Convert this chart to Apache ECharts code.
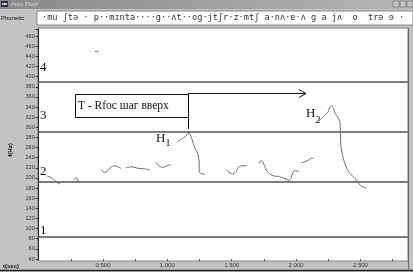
<!DOCTYPE html>
<html>
<head>
<meta charset="utf-8">
<script src="https://cdn.jsdelivr.net/npm/echarts@6/dist/echarts.min.js"></script>
<style>
  html, body { margin: 0; padding: 0; background: #fff; }
  #chart { width: 413px; height: 272px; }
</style>
</head>
<body>
<div id="chart"></div>
<script>
// pitch contour pieces, [time (sec), f0 (Hz)]
const segA = [[0.065, 204], [0.096, 201], [0.121, 196], [0.142, 192], [0.155, 188], [0.166, 190]];
const segB = [[0.272, 196], [0.290, 201], [0.315, 191]];
const segK = [[0.434, 449], [0.449, 451], [0.469, 447]];
const segC = [[0.484, 216], [0.510, 211], [0.536, 214], [0.562, 222], [0.587, 224], [0.614, 222], [0.639, 219]];
const segD = [[0.678, 220], [0.725, 222], [0.772, 219], [0.818, 218], [0.865, 216]];
const segE = [[0.912, 231], [0.942, 222], [0.968, 221], [0.995, 224], [1.026, 226]];
const segF = [[1.080, 272], [1.111, 277], [1.137, 281], [1.162, 288], [1.176, 287], [1.189, 278], [1.214, 259],
  [1.235, 249], [1.246, 235], [1.248, 212], [1.259, 209], [1.292, 207]];
const segG = [[1.456, 216], [1.486, 210], [1.512, 208], [1.533, 212], [1.551, 221], [1.577, 224], [1.616, 224]];
const segH = [[1.714, 229], [1.725, 234], [1.741, 232], [1.758, 222], [1.772, 214], [1.797, 208], [1.823, 204],
  [1.862, 203], [1.901, 200], [1.927, 197], [1.945, 195], [1.960, 199], [1.974, 210], [1.984, 214], [2.005, 214], [2.023, 212]];
const segI = [[2.044, 230], [2.069, 232], [2.095, 235], [2.113, 238], [2.134, 239]];
const segJ = [[2.172, 311], [2.211, 321], [2.250, 331], [2.263, 340], [2.276, 342], [2.289, 339], [2.302, 328],
  [2.328, 318], [2.341, 311], [2.345, 288], [2.349, 262], [2.367, 239], [2.393, 219], [2.419, 209], [2.458, 199],
  [2.483, 190], [2.510, 183], [2.549, 180]];
const segments = [segA, segB, segK, segC, segD, segE, segF, segG, segH, segI, segJ];

// register levels
const levelValues = [84, 192, 291, 389];
const levelNames = ['1', '2', '3', '4'];

const phonetic = '·mu ʃtə · p··mɪnta····g··ʌt··og·jtʃr·z·mtʃ a·nʌ·ɐ·ʌ g a jʌ  o  trə ɘ ·';

const chart = echarts.init(document.getElementById('chart'));

const serif = '"Liberation Serif", "DejaVu Serif", serif';
const tiny = '"Liberation Sans", Arial, sans-serif';

const series = segments.map((seg, i) => ({
  type: 'line',
  data: seg,
  showSymbol: false,
  smooth: 0.2,
  silent: true,
  z: 5,
  lineStyle: { color: '#6a6a6a', width: 1 }
}));

series.push({
  type: 'line',
  data: [],
  silent: true,
  markLine: {
    silent: true,
    symbol: 'none',
    label: { show: false },
    lineStyle: { color: '#7c7c7c', width: 2, type: 'solid' },
    data: levelValues.map(v => ({ yAxis: v }))
  }
});

const levelLabelY = { '1': 231, '2': 172, '3': 116, '4': 68 };

const option = {
  animation: false,
  grid: { left: 38.7, right: 5, top: 29, bottom: 13 },
  xAxis: {
    type: 'value',
    min: 0,
    max: 2.87,
    interval: 0.25,
    axisLine: { show: false },
    axisTick: { show: true, length: 2, lineStyle: { color: '#555' } },
    splitLine: { show: false },
    axisLabel: {
      margin: 3,
      fontSize: 6,
      fontFamily: tiny,
      color: '#333',
      formatter: v => (v > 0 && Math.abs(v * 2 - Math.round(v * 2)) < 1e-6) ? v.toFixed(3) : ''
    }
  },
  yAxis: {
    type: 'value',
    min: 40,
    max: 494,
    interval: 20,
    axisLine: { show: true, lineStyle: { color: '#222', width: 1 } },
    axisTick: { show: true, length: 3, lineStyle: { color: '#333' } },
    splitLine: { show: false },
    axisLabel: {
      margin: 4,
      fontSize: 5.5,
      fontFamily: tiny,
      color: '#333',
      formatter: v => (v % 20 === 0 && v <= 480) ? String(v) : ''
    }
  },
  graphic: [
    // window chrome
    { type: 'rect', z: -20, shape: { x: 0, y: 0, width: 413, height: 272 }, style: { fill: '#c3c3c3' } },
    { type: 'rect', z: -19, shape: { x: 38, y: 28, width: 370, height: 233 }, style: { fill: '#fff', stroke: '#808080', lineWidth: 1 } },
    { type: 'rect', z: -19, shape: { x: 0, y: 0, width: 413, height: 9 },
      style: { fill: new echarts.graphic.LinearGradient(0, 0, 1, 0, [{ offset: 0, color: '#8a8a8a' }, { offset: 1, color: '#b5b5b5' }]) } },
    { type: 'rect', z: -18, shape: { x: 1, y: 1, width: 7, height: 6 }, style: { fill: '#1a2a8a' } },
    { type: 'rect', z: -18, shape: { x: 2, y: 3, width: 5, height: 2 }, style: { fill: '#e8d040' } },
    { type: 'text', z: -18, x: 11, y: 4.5, style: { text: 'Auto Pitch', font: '6px ' + tiny, fill: '#d8d8d8', verticalAlign: 'middle' } },
    { type: 'rect', z: -18, shape: { x: 393, y: 1, width: 6, height: 6 }, style: { fill: '#c3c3c3', stroke: '#555', lineWidth: 0.5 } },
    { type: 'rect', z: -18, shape: { x: 400, y: 1, width: 6, height: 6 }, style: { fill: '#c3c3c3', stroke: '#555', lineWidth: 0.5 } },
    { type: 'rect', z: -18, shape: { x: 407, y: 1, width: 6, height: 6 }, style: { fill: '#c3c3c3', stroke: '#555', lineWidth: 0.5 } },
    { type: 'text', z: -18, x: 1, y: 18, style: { text: 'Phonetic', font: '6px ' + tiny, fill: '#111', verticalAlign: 'middle' } },
    { type: 'rect', z: -18, shape: { x: 37, y: 11, width: 376, height: 14 }, style: { fill: '#fff', stroke: '#888', lineWidth: 1 } },
    { type: 'text', z: -17, x: 42, y: 18, style: { text: phonetic, font: '8.6px "DejaVu Sans Mono", monospace', fill: '#333', verticalAlign: 'middle' } },
    { type: 'line', z: -17, shape: { x1: 0, y1: 270.5, x2: 413, y2: 270.5 }, style: { stroke: '#222', lineWidth: 1.5 } },
    { type: 'line', z: -17, shape: { x1: 408.5, y1: 28, x2: 408.5, y2: 271 }, style: { stroke: '#666', lineWidth: 1 } },
    { type: 'text', z: -17, x: 10, y: 150, rotation: Math.PI / 2, style: { text: 'f(Hz)', font: 'bold 6px ' + tiny, fill: '#111', align: 'center', verticalAlign: 'middle' } },
    { type: 'text', z: -17, x: 3, y: 266, style: { text: 't(sec)', font: 'bold 6px ' + tiny, fill: '#111', verticalAlign: 'middle' } },
    // level numbers
    ...levelNames.map(n => ({
      type: 'text', z: 20, x: 40, y: levelLabelY[n],
      style: { text: n, font: '13px ' + serif, fill: '#111', verticalAlign: 'middle' }
    })),
    // annotation box + arrow
    { type: 'rect', z: 20, shape: { x: 75.5, y: 94.5, width: 113, height: 23 }, style: { fill: '#fff', stroke: '#111', lineWidth: 1 } },
    { type: 'text', z: 21, x: 78, y: 106, style: { text: 'T - Rfoc шаг вверх', font: '11.5px ' + serif, fill: '#111', verticalAlign: 'middle' } },
    { type: 'polyline', z: 20, shape: { points: [[188.5, 129], [188.5, 93.5], [306, 93.5]] }, style: { stroke: '#111', lineWidth: 1, fill: 'none' } },
    { type: 'polyline', z: 20, shape: { points: [[299, 89.5], [306, 93.5], [299, 97.5]] }, style: { stroke: '#111', lineWidth: 1, fill: 'none' } },
    // peak labels
    { type: 'text', z: 20, x: 156, y: 139, style: { text: 'H', font: '13px ' + serif, fill: '#111', verticalAlign: 'middle' } },
    { type: 'text', z: 20, x: 165.5, y: 143, style: { text: '1', font: '10px ' + serif, fill: '#111', verticalAlign: 'middle' } },
    { type: 'text', z: 20, x: 306, y: 114, style: { text: 'H', font: '13px ' + serif, fill: '#111', verticalAlign: 'middle' } },
    { type: 'text', z: 20, x: 315.5, y: 120, style: { text: '2', font: '10px ' + serif, fill: '#111', verticalAlign: 'middle' } }
  ],
  series: series
};

chart.setOption(option);
</script>
</body>
</html>
